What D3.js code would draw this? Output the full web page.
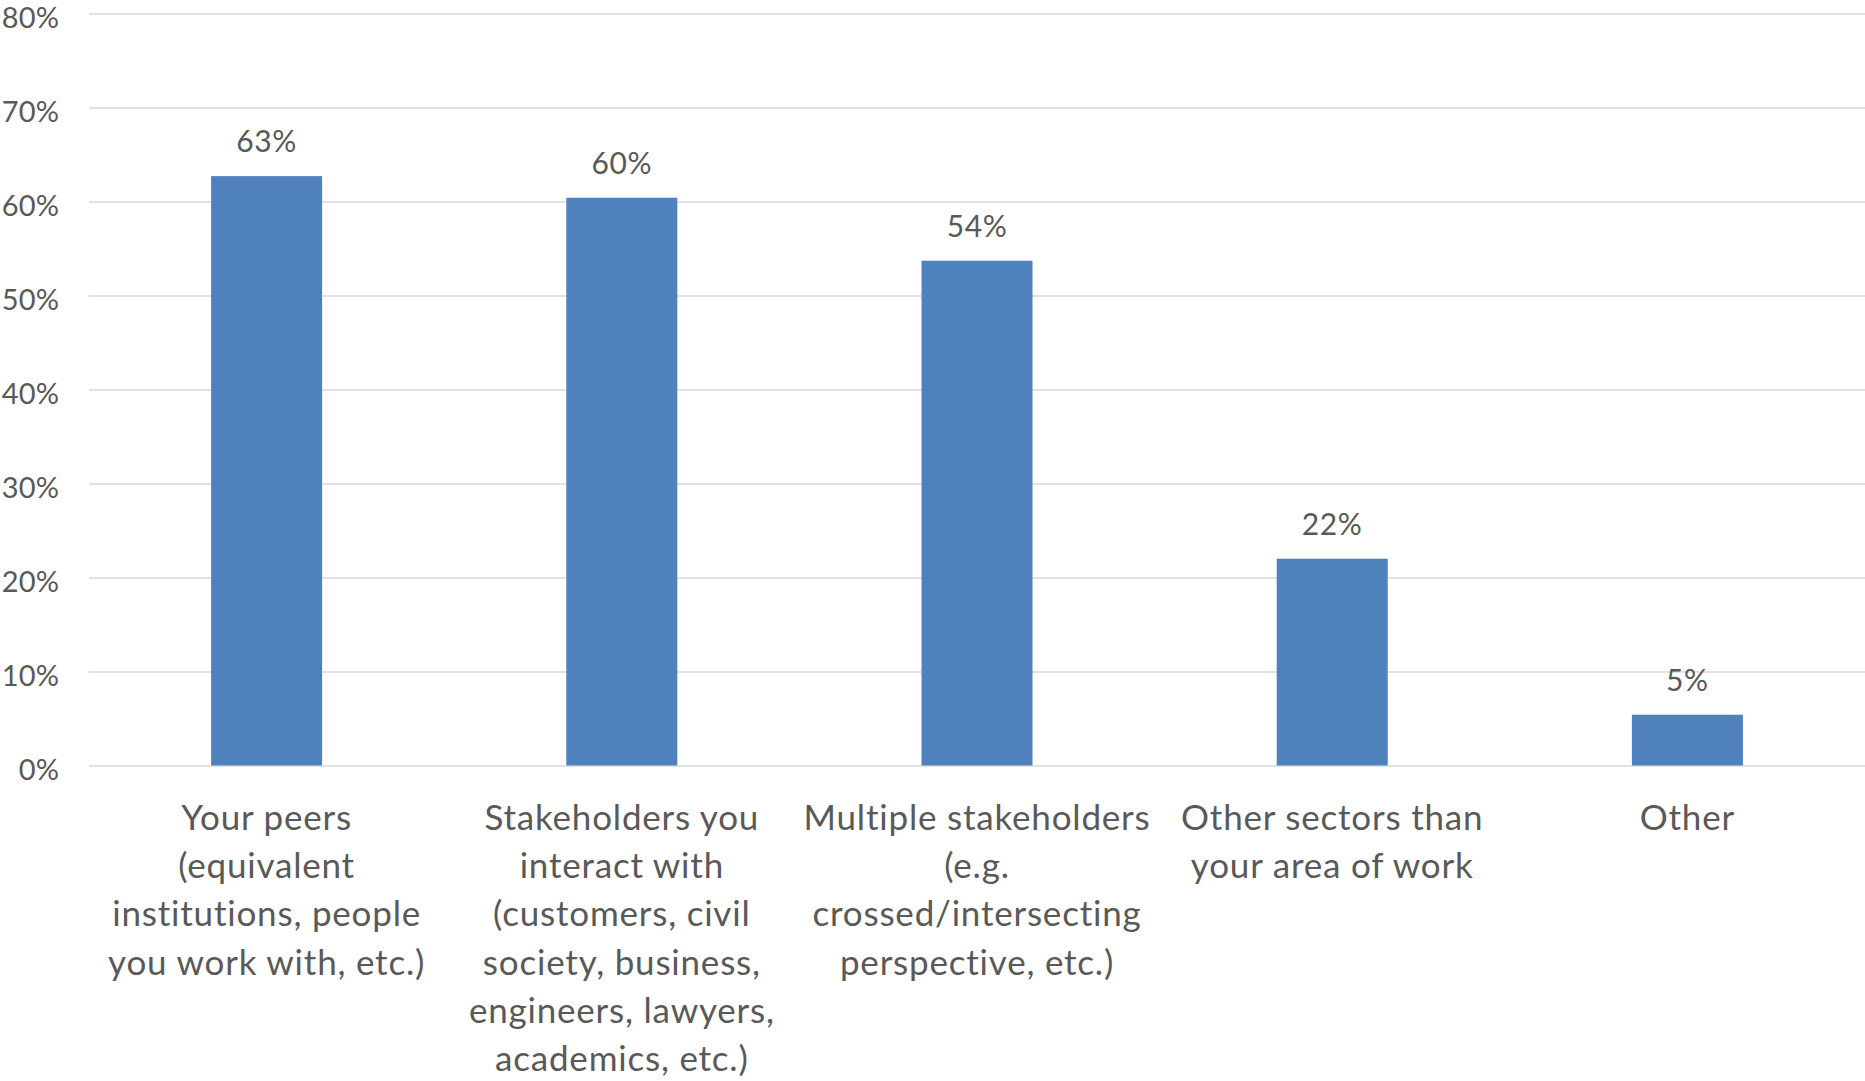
<!DOCTYPE html>
<html>
<head>
<meta charset="utf-8">
<script src="https://cdn.jsdelivr.net/npm/d3@7"></script>
<style>
  html, body { margin: 0; padding: 0; background: #fff; }
  svg { display: block; }
  text { font-family: Lato, "Open Sans", sans-serif; fill: #595959; }
</style>
</head>
<body>
<svg id="chart" width="1865" height="1081"></svg>
<script>
// Survey responses: who respondents consult
const categories = [
  "Your peers\n(equivalent\ninstitutions, people\nyou work with, etc.)",
  "Stakeholders you\ninteract with\n(customers, civil\nsociety, business,\nengineers, lawyers,\nacademics, etc.)",
  "Multiple stakeholders\n(e.g.\ncrossed/intersecting\nperspective, etc.)",
  "Other sectors than\nyour area of work",
  "Other"
];
const shares = [0.627, 0.604, 0.537, 0.220, 0.054];
const yTicks = [0, 0.1, 0.2, 0.3, 0.4, 0.5, 0.6, 0.7, 0.8];

const W = 1865, H = 1081;
const margin = { left: 89, right: 0, top: 13.5, bottom: H - 765.5 };

const svg = d3.select("#chart");
const fmt = d3.format(".0%");

const x = d3.scaleBand()
  .domain(d3.range(categories.length))
  .range([margin.left, W - margin.right])
  .paddingInner(0.6875)
  .paddingOuter(0.34375);

const y = d3.scaleLinear()
  .domain([0, 0.8])
  .range([H - margin.bottom, margin.top]);

// Horizontal gridlines with percentage tick labels
const yAxis = d3.axisLeft(y)
  .tickValues(yTicks)
  .tickSize(-(W - margin.left - margin.right))
  .tickFormat(fmt)
  .tickPadding(30);

const gy = svg.append("g")
  .attr("transform", `translate(${margin.left},0)`)
  .call(yAxis);
gy.select(".domain").remove();
gy.selectAll(".tick line").attr("stroke", "#d9d9d9").attr("stroke-width", 1.5);
gy.selectAll(".tick text")
  .attr("font-size", 29)
  .attr("dy", 13.6)
  .attr("fill", "#595959")
  .style("letter-spacing", "0.1px")
  .style("font-family", "Lato, 'Open Sans', sans-serif");

// Bars
svg.append("g")
  .selectAll("rect")
  .data(shares)
  .join("rect")
  .attr("x", (d, i) => x(i))
  .attr("width", x.bandwidth())
  .attr("y", d => y(d))
  .attr("height", d => y(0) - y(d))
  .attr("fill", "#4f81bd");

// Value labels above bars
svg.append("g")
  .selectAll("text")
  .data(shares)
  .join("text")
  .attr("x", (d, i) => x(i) + x.bandwidth() / 2)
  .attr("y", d => y(d) - 24)
  .attr("text-anchor", "middle")
  .attr("font-size", 30)
  .style("letter-spacing", "0.6px")
  .text(d => fmt(d));

// Category labels, one tspan per line
const lineGap = 48.2;
const cat = svg.append("g")
  .selectAll("text")
  .data(categories)
  .join("text")
  .attr("text-anchor", "middle")
  .attr("font-size", 35)
  .style("letter-spacing", "0.8px")
  .attr("transform", (d, i) => `translate(${x(i) + x.bandwidth() / 2},830)`);
cat.selectAll("tspan")
  .data(d => d.split("\n"))
  .join("tspan")
  .attr("x", 0)
  .attr("y", (d, j) => j * lineGap)
  .text(d => d);
</script>
</body>
</html>
